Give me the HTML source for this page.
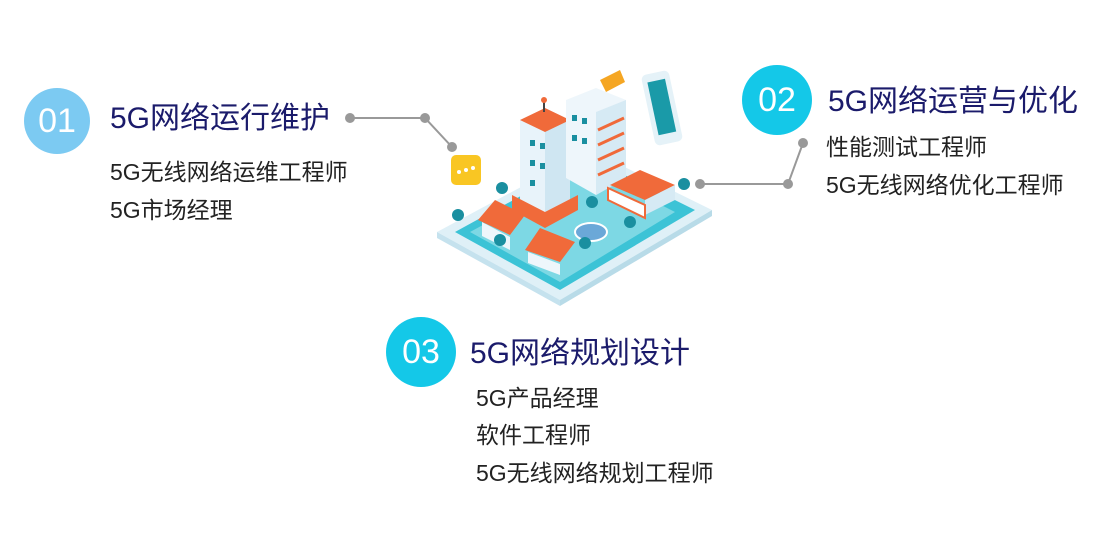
<!DOCTYPE html>
<html><head><meta charset="utf-8"><style>
body{margin:0;width:1116px;height:556px;background:#fff;position:relative;overflow:hidden;font-family:"Liberation Sans","Noto Sans CJK SC",sans-serif}
.c{position:absolute;border-radius:50%;color:#fff;font-size:34px;display:flex;align-items:center;justify-content:center}
.t{position:absolute;color:#1b1b6b;font-size:30px;white-space:nowrap;line-height:1}
.s{position:absolute;color:#222;font-size:23px;white-space:nowrap;line-height:1}
</style></head><body>
<div class="c" style="left:24px;top:88px;width:66px;height:66px;background:#7ccaf2">01</div>
<div class="t" style="left:110px;top:104px">5G网络运行维护</div>
<div class="s" style="left:110px;top:161px">5G无线网络运维工程师</div>
<div class="s" style="left:110px;top:199px">5G市场经理</div>

<div class="c" style="left:742px;top:65px;width:70px;height:70px;background:#14c8e8">02</div>
<div class="t" style="left:828px;top:87px">5G网络运营与优化</div>
<div class="s" style="left:826px;top:136px">性能测试工程师</div>
<div class="s" style="left:826px;top:174px">5G无线网络优化工程师</div>

<div class="c" style="left:386px;top:317px;width:70px;height:70px;background:#14c8e8">03</div>
<div class="t" style="left:470px;top:339px">5G网络规划设计</div>
<div class="s" style="left:476px;top:387px">5G产品经理</div>
<div class="s" style="left:476px;top:424px">软件工程师</div>
<div class="s" style="left:476px;top:462px">5G无线网络规划工程师</div>

<svg width="1116" height="556" style="position:absolute;left:0;top:0">
<g stroke="#999" stroke-width="2" fill="#999">
<polyline points="350,118 425,118 452,147" fill="none"/>
<circle cx="350" cy="118" r="4"/><circle cx="425" cy="118" r="4"/><circle cx="452" cy="147" r="4"/>
<polyline points="700,184 788,184 803,143" fill="none"/>
<circle cx="700" cy="184" r="4"/><circle cx="788" cy="184" r="4"/><circle cx="803" cy="143" r="4"/>
</g>
<polygon points="437,232 560,300 712,210 590,150" fill="#dff0f7"/>
<polygon points="437,232 560,300 560,306 437,238" fill="#c5e2ee"/>
<polygon points="560,300 712,210 712,216 560,306" fill="#b8dbe8"/>
<polygon points="455,232 560,290 695,210 590,158" fill="#3cc3d6"/>
<polygon points="470,232 560,282 675,212 588,168" fill="#7dd8e4"/>
<ellipse cx="591" cy="232" rx="16" ry="9" fill="#6ba8d8" stroke="#fff" stroke-width="2"/>
<polygon points="520,120 545,108 570,120 570,200 545,215 520,200" fill="#e8f3fa"/>
<polygon points="545,130 570,120 570,200 545,215" fill="#cfe6f2"/>
<polygon points="520,120 545,108 570,120 545,132" fill="#f06a3a"/>
<line x1="544" y1="100" x2="544" y2="112" stroke="#444" stroke-width="2"/><circle cx="544" cy="100" r="3" fill="#f06a3a"/>
<polygon points="512,195 545,212 578,195 578,210 545,228 512,210" fill="#f06a3a"/>
<polygon points="566,100 596,88 626,100 626,178 596,195 566,178" fill="#eef6fb"/>
<polygon points="596,112 626,100 626,178 596,195" fill="#d6eaf4"/>
<g stroke="#f06a3a" stroke-width="3"><line x1="598" y1="130" x2="624" y2="118"/><line x1="598" y1="145" x2="624" y2="133"/><line x1="598" y1="160" x2="624" y2="148"/><line x1="598" y1="175" x2="624" y2="163"/></g>
<g fill="#1a8fa0"><rect x="572" y="115" width="5" height="6"/><rect x="582" y="118" width="5" height="6"/><rect x="572" y="135" width="5" height="6"/><rect x="582" y="138" width="5" height="6"/><rect x="530" y="140" width="5" height="6"/><rect x="540" y="143" width="5" height="6"/><rect x="530" y="160" width="5" height="6"/><rect x="540" y="163" width="5" height="6"/><rect x="530" y="180" width="5" height="6"/></g>
<polygon points="600,80 620,70 625,82 606,92" fill="#f5a623"/>
<rect x="648" y="72" width="28" height="72" rx="5" fill="#e5f2f8" transform="rotate(-12 662 108)"/>
<rect x="653" y="80" width="18" height="54" fill="#1a9aa8" transform="rotate(-12 662 108)"/>
<rect x="451" y="155" width="30" height="30" rx="5" fill="#f9c623"/>
<g fill="#fff"><circle cx="459" cy="172" r="2"/><circle cx="466" cy="170" r="2"/><circle cx="473" cy="168" r="2"/></g>
<polygon points="478,220 495,200 525,215 510,235" fill="#f06a3a"/>
<polygon points="482,222 510,237 510,250 482,236" fill="#eef6fb"/>
<polygon points="525,250 540,228 575,242 560,262" fill="#f06a3a"/>
<polygon points="528,252 560,264 560,275 528,263" fill="#eef6fb"/>
<polygon points="610,185 640,170 675,185 645,200" fill="#f06a3a"/>
<polygon points="645,200 675,185 675,200 645,215" fill="#d6eaf4"/>
<polygon points="608,188 645,205 645,218 608,200" fill="#fff" stroke="#f06a3a" stroke-width="2"/>
<g fill="#1a8fa0"><circle cx="458" cy="215" r="6"/><circle cx="502" cy="188" r="6"/><circle cx="592" cy="202" r="6"/><circle cx="630" cy="222" r="6"/><circle cx="684" cy="184" r="6"/><circle cx="585" cy="243" r="6"/><circle cx="500" cy="240" r="6"/></g>
</svg>
</body></html>
